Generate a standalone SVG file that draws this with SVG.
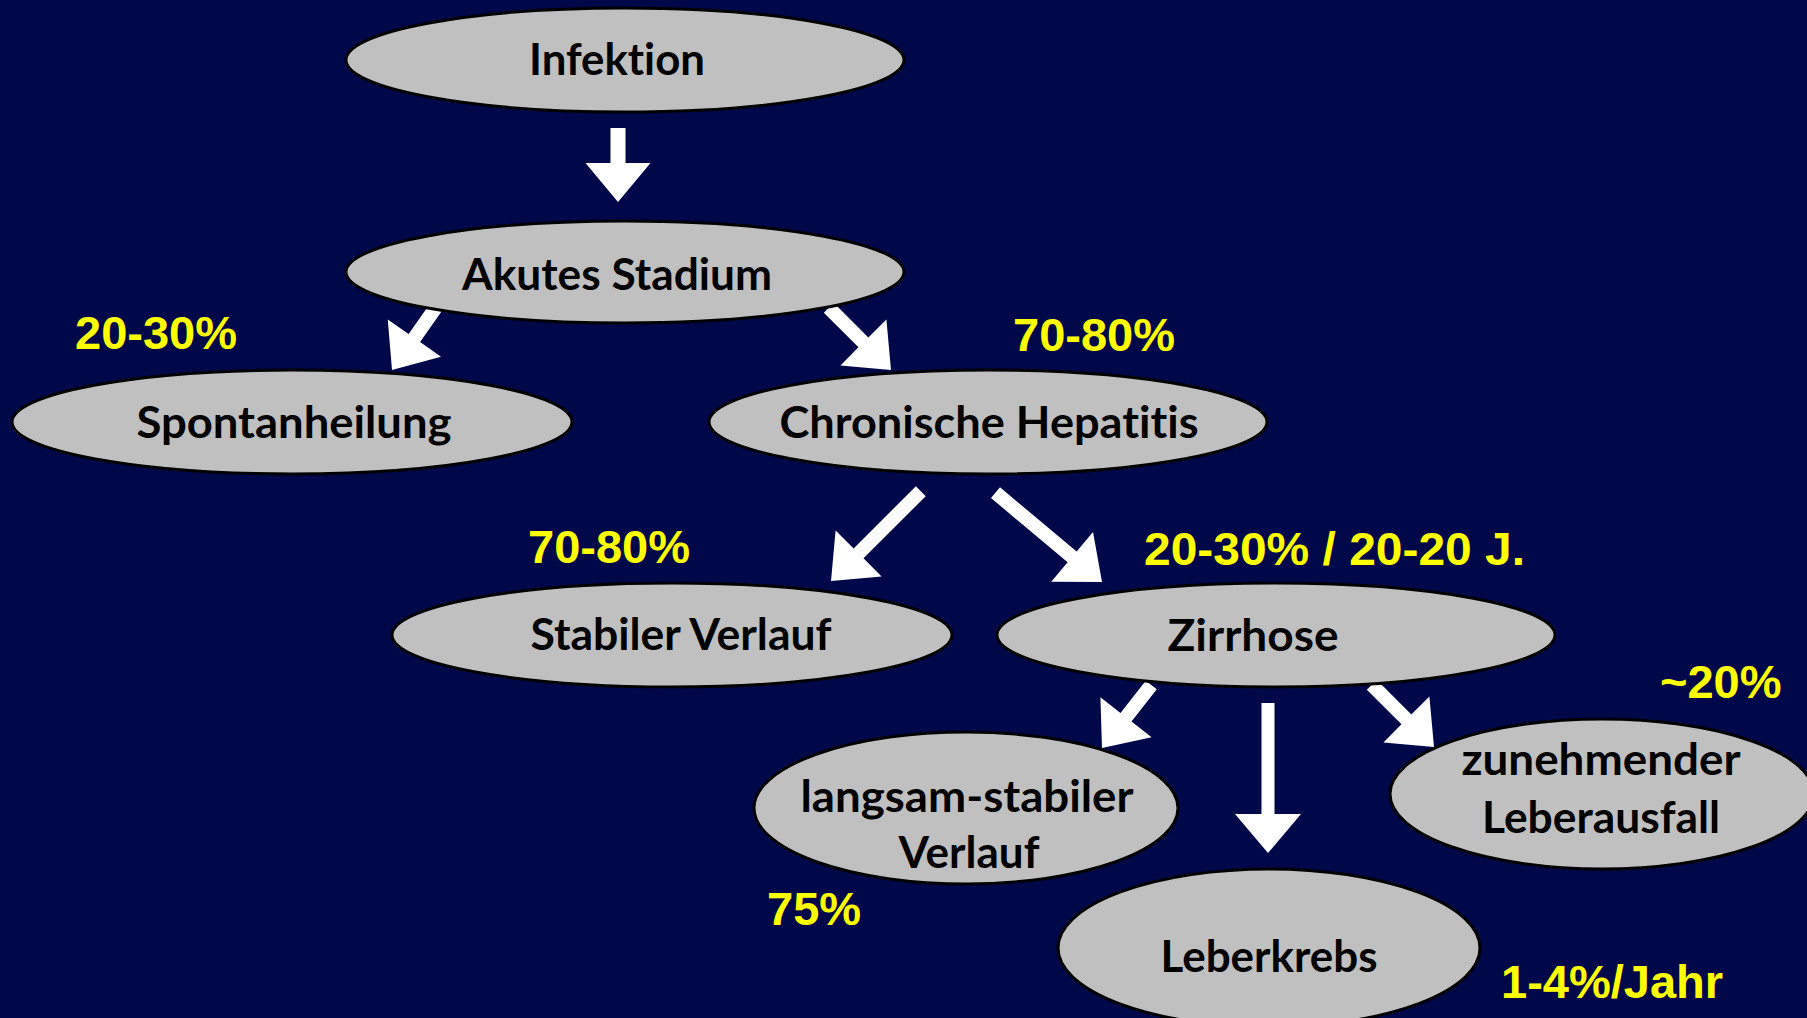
<svg xmlns="http://www.w3.org/2000/svg" xmlns:xlink="http://www.w3.org/1999/xlink" width="1807" height="1018" viewBox="0 0 1807 1018">
  <style>
    .node ellipse { fill: #C0C0C0; stroke: #000000; stroke-width: 3; }
    .node text { font-family: Lato, "Open Sans", "Liberation Sans", sans-serif; font-weight: 700; font-size: 44px; fill: #000000; text-anchor: middle; font-variant-ligatures: none; font-feature-settings: "liga" 0, "clig" 0; }
    .pct { font-family: "Liberation Sans", Arial, sans-serif; font-weight: 700; font-size: 47px; fill: #FFFF00; }
    .conn use { fill: #FFFFFF; }
  </style>
  <defs>
    <!-- block arrow, tip at origin, pointing along +x -->
    <path id="arr80" d="M -80,-7 L -39,-7 L -39,-32.5 L 0,0 L -39,32.5 L -39,7 L -80,7 Z"/>
    <path id="arr74" d="M -74,-7.5 L -39,-7.5 L -39,-32.5 L 0,0 L -39,32.5 L -39,7.5 L -74,7.5 Z"/>
    <path id="arr88" d="M -88,-7 L -39,-7 L -39,-32.5 L 0,0 L -39,32.5 L -39,7 L -88,7 Z"/>
    <path id="arr127" d="M -127,-7 L -39,-7 L -39,-32.5 L 0,0 L -39,32.5 L -39,7 L -127,7 Z"/>
    <path id="arr139" d="M -139,-7 L -39,-7 L -39,-32.5 L 0,0 L -39,32.5 L -39,7 L -139,7 Z"/>
    <path id="arr150" d="M -150,-6.5 L -39,-6.5 L -39,-33 L 0,0 L -39,33 L -39,6.5 L -150,6.5 Z"/>
  </defs>

  <rect x="0" y="0" width="1807" height="1018" fill="#00084A"/>

  <g id="connectors" class="conn">
    <use xlink:href="#arr74" transform="translate(618,202) rotate(90)"/>
    <use xlink:href="#arr80" transform="translate(392,370) rotate(125)"/>
    <use xlink:href="#arr88" transform="translate(891,370) rotate(45)"/>
    <use xlink:href="#arr127" transform="translate(831,581) rotate(135)"/>
    <use xlink:href="#arr139" transform="translate(1102,582) rotate(40)"/>
    <use xlink:href="#arr80" transform="translate(1102,748) rotate(128)"/>
    <use xlink:href="#arr150" transform="translate(1268,853) rotate(90)"/>
    <use xlink:href="#arr88" transform="translate(1434,747) rotate(45)"/>
  </g>

  <g id="node-infektion" class="node">
    <ellipse cx="625" cy="60" rx="279" ry="52"/>
    <text x="617" y="75" textLength="176" lengthAdjust="spacingAndGlyphs">Infektion</text>
  </g>
  <g id="node-akut" class="node">
    <ellipse cx="625" cy="272" rx="279" ry="51"/>
    <text x="617" y="290" textLength="310" lengthAdjust="spacingAndGlyphs">Akutes Stadium</text>
  </g>
  <g id="node-spontan" class="node">
    <ellipse cx="292" cy="422" rx="280" ry="52"/>
    <text x="294" y="438" textLength="315" lengthAdjust="spacingAndGlyphs">Spontanheilung</text>
  </g>
  <g id="node-chronisch" class="node">
    <ellipse cx="988" cy="422" rx="279" ry="52"/>
    <text x="989" y="438" textLength="419" lengthAdjust="spacingAndGlyphs">Chronische Hepatitis</text>
  </g>
  <g id="node-stabil" class="node">
    <ellipse cx="672" cy="635" rx="280" ry="52"/>
    <text x="681" y="650" textLength="301" lengthAdjust="spacingAndGlyphs">Stabiler Verlauf</text>
  </g>
  <g id="node-zirrhose" class="node">
    <ellipse cx="1276" cy="635" rx="279" ry="52"/>
    <text x="1253" y="651" textLength="171" lengthAdjust="spacingAndGlyphs">Zirrhose</text>
  </g>
  <g id="node-langsam" class="node">
    <ellipse cx="966" cy="808" rx="212" ry="76"/>
    <text x="967" y="812" textLength="333" lengthAdjust="spacingAndGlyphs">langsam-stabiler</text>
    <text x="969" y="868" textLength="141" lengthAdjust="spacingAndGlyphs">Verlauf</text>
  </g>
  <g id="node-leberkrebs" class="node">
    <ellipse cx="1269" cy="948" rx="211" ry="79"/>
    <text x="1269" y="972" textLength="217" lengthAdjust="spacingAndGlyphs">Leberkrebs</text>
  </g>
  <g id="node-leberausfall" class="node">
    <ellipse cx="1602" cy="794" rx="212" ry="75"/>
    <text x="1601" y="775" textLength="279" lengthAdjust="spacingAndGlyphs">zunehmender</text>
    <text x="1601" y="833" textLength="238" lengthAdjust="spacingAndGlyphs">Leberausfall</text>
  </g>

  <g id="rates">
    <text class="pct" x="75" y="349">20-30%</text>
    <text class="pct" x="1013" y="351">70-80%</text>
    <text class="pct" x="528" y="563">70-80%</text>
    <text class="pct" x="1144" y="565" textLength="381" lengthAdjust="spacingAndGlyphs">20-30% / 20-20 J.</text>
    <text class="pct" x="1660" y="698">~20%</text>
    <text class="pct" x="767" y="925">75%</text>
    <text class="pct" x="1501" y="998">1-4%/Jahr</text>
  </g>
</svg>
